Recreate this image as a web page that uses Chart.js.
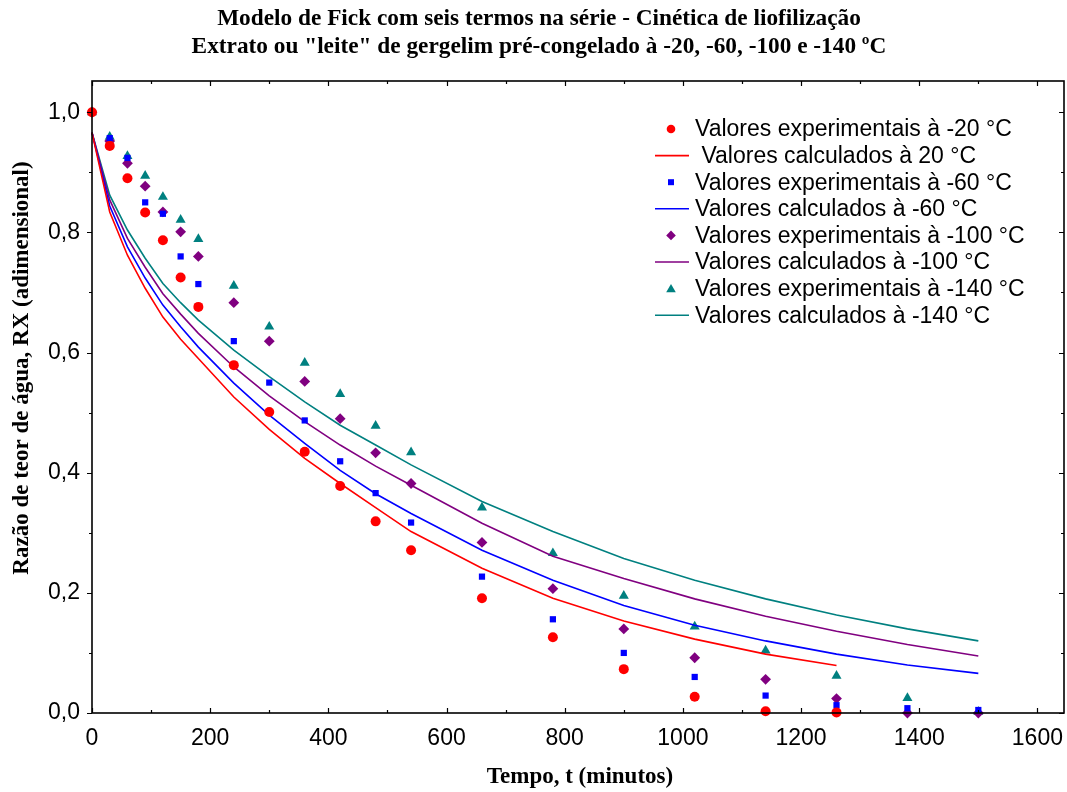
<!DOCTYPE html>
<html>
<head>
<meta charset="utf-8">
<script src="https://cdn.jsdelivr.net/npm/chart.js@4.4.0/dist/chart.umd.min.js"></script>
<style>
  html, body { margin: 0; padding: 0; background: #fff; }
  #chart { display: block; }
</style>
</head>
<body>
<canvas id="chart" width="1067" height="792"></canvas>
<script>
// ==== Data ====
const times = [0, 30, 60, 90, 120, 150, 180, 240, 300, 360, 420, 480, 540, 660, 780, 900, 1020, 1140, 1260, 1380, 1500];

// experimental RX (red stops at 1260 min)
const exp20  = [1.0, 0.944, 0.890, 0.833, 0.787, 0.725, 0.676, 0.579, 0.501, 0.435, 0.378, 0.319, 0.271, 0.191, 0.126, 0.073, 0.027, 0.003, 0.001];
const exp60  = [1.0, 0.957, 0.924, 0.850, 0.831, 0.760, 0.714, 0.619, 0.550, 0.487, 0.419, 0.366, 0.317, 0.227, 0.156, 0.100, 0.060, 0.029, 0.013, 0.008, 0.005];
const exp100 = [1.0, 0.952, 0.915, 0.877, 0.834, 0.801, 0.760, 0.683, 0.619, 0.552, 0.490, 0.433, 0.382, 0.284, 0.207, 0.140, 0.092, 0.056, 0.024, 0.0, 0.0];
const exp140 = [1.0, 0.959, 0.927, 0.894, 0.859, 0.821, 0.789, 0.711, 0.643, 0.583, 0.531, 0.478, 0.434, 0.342, 0.266, 0.195, 0.144, 0.104, 0.062, 0.025, 0.002];

// calculated RX (Fick, six terms)
const calc20  = [0.966, 0.834, 0.762, 0.707, 0.659, 0.622, 0.590, 0.526, 0.472, 0.424, 0.382, 0.342, 0.302, 0.241, 0.191, 0.153, 0.123, 0.098, 0.079];
const calc60  = [0.966, 0.844, 0.776, 0.724, 0.679, 0.643, 0.609, 0.549, 0.496, 0.449, 0.404, 0.365, 0.332, 0.271, 0.221, 0.179, 0.146, 0.120, 0.098, 0.080, 0.066];
const calc100 = [0.966, 0.854, 0.790, 0.742, 0.698, 0.664, 0.632, 0.576, 0.528, 0.485, 0.446, 0.411, 0.379, 0.316, 0.261, 0.224, 0.190, 0.161, 0.136, 0.114, 0.095];
const calc140 = [0.966, 0.862, 0.804, 0.757, 0.715, 0.683, 0.654, 0.604, 0.560, 0.518, 0.479, 0.446, 0.413, 0.352, 0.302, 0.257, 0.221, 0.190, 0.163, 0.140, 0.120];

const xTicks = [0, 200, 400, 600, 800, 1000, 1200, 1400, 1600];
const yTicks = [0, 0.2, 0.4, 0.6, 0.8, 1.0];
const yTickLabels = ['0,0', '0,2', '0,4', '0,6', '0,8', '1,0'];

const titleLines = [
    'Modelo de Fick com seis termos na série - Cinética de liofilização',
    'Extrato ou "leite" de gergelim pré-congelado à -20, -60, -100 e -140 ºC'
];
const xTitle = 'Tempo, t (minutos)';
const yTitle = 'Razão de teor de água, RX (adimensional)';

const legendLabels = [
    'Valores experimentais à -20 °C',
    ' Valores calculados à 20 °C',
    'Valores experimentais à -60 °C',
    'Valores calculados à -60 °C',
    'Valores experimentais à -100 °C',
    'Valores calculados à -100 °C',
    'Valores experimentais à -140 °C',
    'Valores calculados à -140 °C'
];

const RED = '#ff0000', BLUE = '#0000ff', PURPLE = '#800080', TEAL = '#008080';
const SANS = '"Liberation Sans", Arial, sans-serif';
const SERIF = '"Liberation Serif", "Times New Roman", serif';

function pts(ys) {
    return ys.map((y, i) => ({ x: times[i], y: y }));
}

function expSet(label, ys, color, style, r) {
    return {
        label: label, data: pts(ys), showLine: false,
        pointStyle: style, pointRadius: r, pointHoverRadius: r,
        backgroundColor: color, borderColor: color, borderWidth: 0,
        clip: false
    };
}
function calcSet(label, ys, color) {
    return {
        label: label, data: pts(ys), showLine: true,
        pointRadius: 0, borderColor: color, borderWidth: 1.6,
        tension: 0, clip: false
    };
}

const datasets = [
    expSet(legendLabels[0], exp20, RED, 'circle', 5),
    calcSet(legendLabels[1], calc20, RED),
    expSet(legendLabels[2], exp60, BLUE, 'rect', 4.4),
    calcSet(legendLabels[3], calc60, BLUE),
    expSet(legendLabels[4], exp100, PURPLE, 'rectRot', 5.4),
    calcSet(legendLabels[5], calc100, PURPLE),
    expSet(legendLabels[6], exp140, TEAL, 'triangle', 5.8),
    calcSet(legendLabels[7], calc140, TEAL)
];

// ==== Frame, ticks and texts ====
const decor = {
    id: 'decor',
    afterDraw(chart) {
        const ctx = chart.ctx;
        const a = chart.chartArea;
        const xs = chart.scales.x, ys = chart.scales.y;
        ctx.save();
        ctx.strokeStyle = '#000';
        ctx.lineWidth = 1.6;
        ctx.strokeRect(a.left, a.top, a.right - a.left, a.bottom - a.top);

        ctx.lineWidth = 1.2;
        ctx.beginPath();
        for (let v = 0; v <= 1600; v += 100) {
            const px = Math.round(xs.getPixelForValue(v)) + 0.5;
            const len = v % 200 === 0 ? 5 : 3;
            ctx.moveTo(px, a.bottom); ctx.lineTo(px, a.bottom - len);
            ctx.moveTo(px, a.top); ctx.lineTo(px, a.top + len);
        }
        for (let i = 0; i <= 10; i++) {
            const v = i / 10;
            const py = Math.round(ys.getPixelForValue(v)) + 0.5;
            const len = i % 2 === 0 ? 5 : 3;
            ctx.moveTo(a.left, py); ctx.lineTo(a.left - len, py);
            ctx.moveTo(a.right, py); ctx.lineTo(a.right - len, py);
        }
        ctx.stroke();

        // titles
        ctx.fillStyle = '#000';
        ctx.textAlign = 'center';
        ctx.textBaseline = 'middle';
        ctx.font = 'bold 23.3px ' + SERIF;
        ctx.fillText(titleLines[0], 539, 19);
        ctx.fillText(titleLines[1], 539, 47);
        ctx.font = 'bold 23px ' + SERIF;
        ctx.fillText(xTitle, 580, 777);
        ctx.save();
        ctx.translate(22, 368);
        ctx.rotate(-Math.PI / 2);
        ctx.fillText(yTitle, 0, 0);
        ctx.restore();

        // legend
        const lx = 671, tx = 695, y0 = 129, dy = 26.6;
        ctx.font = '23px ' + SANS;
        ctx.textAlign = 'left';
        datasets.forEach((ds, i) => {
            const y = y0 + i * dy;
            const c = ds.borderColor;
            ctx.fillStyle = c;
            ctx.strokeStyle = c;
            if (ds.showLine) {
                ctx.lineWidth = 1.6;
                ctx.beginPath();
                ctx.moveTo(655, y); ctx.lineTo(689, y);
                ctx.stroke();
            } else {
                ctx.beginPath();
                if (ds.pointStyle === 'circle') {
                    ctx.arc(lx, y, 4.3, 0, Math.PI * 2);
                } else if (ds.pointStyle === 'rect') {
                    ctx.rect(lx - 3, y - 3, 6, 6);
                } else if (ds.pointStyle === 'rectRot') {
                    ctx.moveTo(lx, y - 4.8); ctx.lineTo(lx + 4.8, y);
                    ctx.lineTo(lx, y + 4.8); ctx.lineTo(lx - 4.8, y);
                    ctx.closePath();
                } else {
                    ctx.moveTo(lx, y - 4.6); ctx.lineTo(lx + 4.8, y + 3.6);
                    ctx.lineTo(lx - 4.8, y + 3.6);
                    ctx.closePath();
                }
                ctx.fill();
            }
            ctx.fillStyle = '#000';
            ctx.fillText(ds.label, tx, y + 1);
        });
        ctx.restore();
    }
};

const chart = new Chart(document.getElementById('chart').getContext('2d'), {
    type: 'scatter',
    data: { datasets: datasets },
    options: {
        responsive: false,
        animation: false,
        layout: { autoPadding: false, padding: { top: 81, right: 3, left: 0, bottom: 0 } },
        plugins: {
            legend: { display: false },
            tooltip: { enabled: false },
            title: { display: false }
        },
        scales: {
            x: {
                type: 'linear', min: 0, max: 1645,
                grid: { display: false, drawTicks: false },
                border: { display: false },
                afterBuildTicks: s => { s.ticks = xTicks.map(v => ({ value: v })); },
                afterFit: s => { s.height = 79; s.paddingLeft = 0; s.paddingRight = 0; },
                ticks: {
                    padding: 12, color: '#000', maxRotation: 0,
                    font: { family: SANS, size: 23 },
                    callback: v => String(v)
                }
            },
            y: {
                type: 'linear', min: 0, max: 1.052,
                grid: { display: false, drawTicks: false },
                border: { display: false },
                afterBuildTicks: s => { s.ticks = yTicks.map(v => ({ value: v })); },
                afterFit: s => { s.width = 92; s.paddingTop = 0; s.paddingBottom = 0; },
                ticks: {
                    padding: 12, color: '#000',
                    font: { family: SANS, size: 23 },
                    callback: v => yTickLabels[yTicks.findIndex(t => Math.abs(t - v) < 1e-9)]
                }
            }
        }
    },
    plugins: [decor]
});
</script>
</body>
</html>
